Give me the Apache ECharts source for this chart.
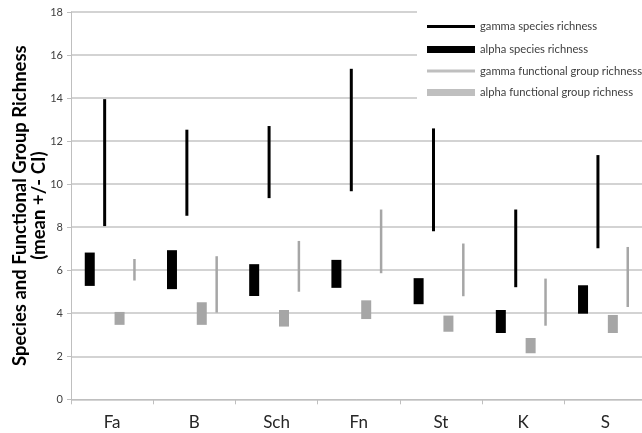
<!DOCTYPE html>
<html><head><meta charset="utf-8">
<script src="https://cdn.jsdelivr.net/npm/echarts@6/dist/echarts.min.js"></script>
<style>html,body{margin:0;padding:0;background:#fff}#c{width:642px;height:433px}</style>
</head><body><div id="c"></div>
<script>
var categories = ['Fa','B','Sch','Fn','St','K','S'];
var yTicks = [0,2,4,6,8,10,12,14,16,18];
// [low, high] per category
var gammaSpeciesLow  = [8.05, 8.53, 9.35, 9.67, 7.81, 5.21, 7.02];
var gammaSpeciesHigh = [13.95,12.53,12.70,15.36,12.59, 8.82,11.35];
var alphaSpeciesLow  = [5.27, 5.12, 4.80, 5.18, 4.42, 3.08, 3.98];
var alphaSpeciesHigh = [6.82, 6.93, 6.28, 6.48, 5.63, 4.15, 5.30];
var gammaFuncLow     = [5.52, 4.03, 5.00, 5.86, 4.79, 3.42, 4.29];
var gammaFuncHigh    = [6.52, 6.65, 7.36, 8.82, 7.24, 5.61, 7.08];
var alphaFuncLow     = [3.46, 3.46, 3.38, 3.73, 3.14, 2.14, 3.08];
var alphaFuncHigh    = [4.06, 4.51, 4.15, 4.60, 3.89, 2.85, 3.92];
var seriesNames = ['gamma species richness','alpha species richness','gamma functional group richness','alpha functional group richness'];

var FONT = 'Lato';
var BLACK = '#000000', GRAY = '#a6a6a6';

function mk(low, high){ return categories.map(function(c,i){ return [i, low[i], high[i]]; }); }

// slot order within a category: alpha sp, gamma sp, alpha fg, gamma fg
function rangeSeries(name, low, high, slot, width, color){
  return {
    name: name, type: 'custom', itemStyle: {color: color},
    encode: {x: 0, y: [1,2]},
    data: mk(low, high),
    renderItem: function(params, api){
      var p1 = api.coord([api.value(0), api.value(1)]);
      var p2 = api.coord([api.value(0), api.value(2)]);
      var band = api.size([1,0])[0];
      var gap = 0.1375, slotW = (1 - 2*gap)/4;
      var cx = p1[0] - band/2 + band*(gap + slotW*(slot+0.5));
      return {type:'rect', shape:{x: cx - width/2, y: p2[1], width: width, height: p1[1]-p2[1]},
              style:{fill: color}};
    }
  };
}

function leg(name, top, h, color){
  return {
    data:[{name:name, icon:'rect', itemStyle:{color:color}}],
    left: 427, top: top, padding: 0, itemWidth: 48, itemHeight: h, selectedMode:false,
    textStyle:{fontFamily:FONT, fontSize:11.2, color:'#404040'}, z: 10
  };
}

var chart = echarts.init(document.getElementById('c'));
chart.setOption({
  animation: false,
  grid: {left: 71, right: -4.5, top: 12, bottom: 33.7, containLabel:false, outerBoundsMode:'none'},
  graphic: [{type:'rect', shape:{x:417, y:0, width:240, height:112}, style:{fill:'#fff'}, z: 5}],
  legend: [
    leg(seriesNames[0], 21, 3, BLACK),
    leg(seriesNames[1], 44, 7, BLACK),
    leg(seriesNames[2], 65.5, 3, '#bfbfbf'),
    leg(seriesNames[3], 87, 7, '#bfbfbf')
  ],
  xAxis: {
    type:'category', data: categories,
    axisLine:{lineStyle:{color:'#bfbfbf', width:1}},
    axisTick:{show:true, length:5, lineStyle:{color:'#bfbfbf'}},
    axisLabel:{fontFamily:FONT, fontSize:17, color:'#262626', margin:15}
  },
  yAxis: {
    type:'value', min: yTicks[0], max: yTicks[yTicks.length-1], interval: 2,
    name: 'Species and Functional Group Richness\n(mean +/- CI)',
    nameLocation:'middle', nameGap: 22, nameRotate: 90, nameMoveOverlap: false,
    nameTextStyle:{fontFamily:FONT, fontSize:18.5, fontWeight:'bold', color:'#000', lineHeight:19},
    axisLine:{show:true, lineStyle:{color:'#bfbfbf'}},
    axisTick:{show:true, length:4, lineStyle:{color:'#bfbfbf'}},
    axisLabel:{fontFamily:FONT, fontSize:11, color:'#404040', margin:8},
    splitLine:{lineStyle:{color:'#c4c4c4', width:1.5}}
  },
  series: [
    rangeSeries(seriesNames[0], gammaSpeciesLow, gammaSpeciesHigh, 1, 3, BLACK),
    rangeSeries(seriesNames[1], alphaSpeciesLow, alphaSpeciesHigh, 0, 10, BLACK),
    rangeSeries(seriesNames[2], gammaFuncLow, gammaFuncHigh, 3, 2.5, GRAY),
    rangeSeries(seriesNames[3], alphaFuncLow, alphaFuncHigh, 2, 10, GRAY)
  ]
});
</script></body></html>
